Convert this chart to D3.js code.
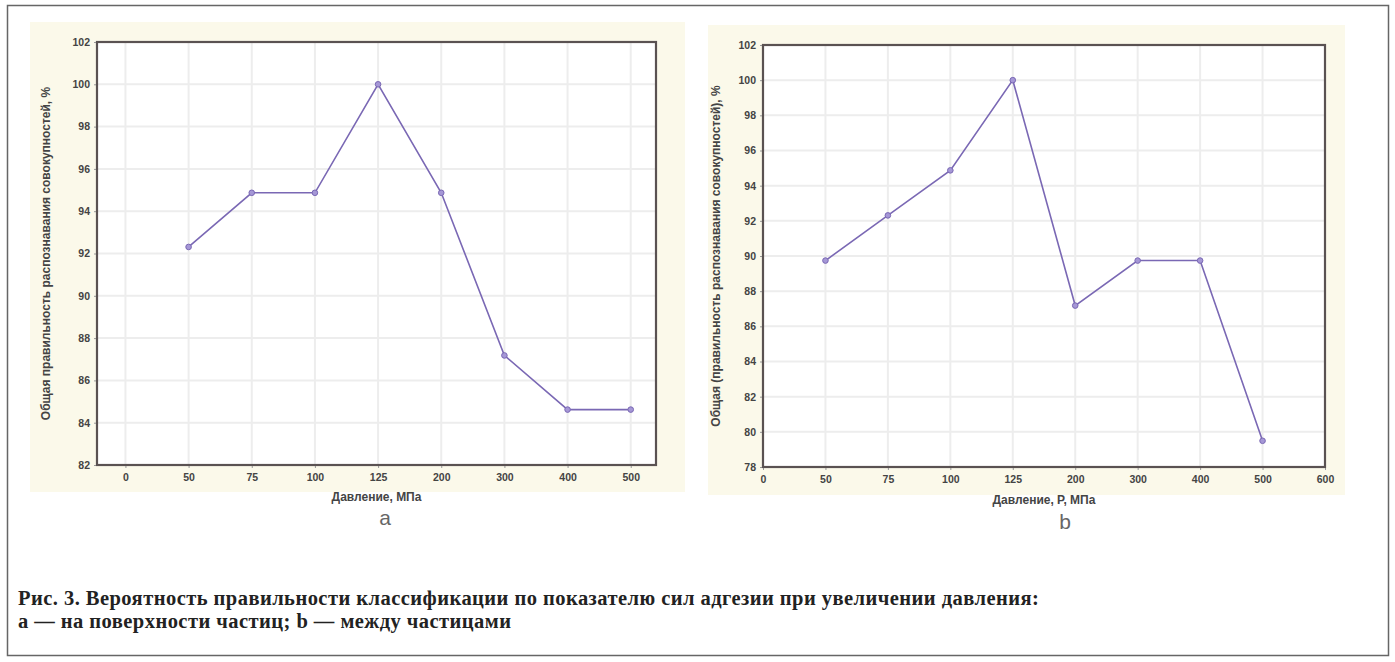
<!DOCTYPE html>
<html><head><meta charset="utf-8">
<script src="https://cdn.jsdelivr.net/npm/d3@7"></script>
<style>body{margin:0;background:#fff}svg{display:block}</style>
</head><body>
<script>
// ---- data ----
const catsA = ["0","50","75","100","125","200","300","400","500"];
const valsA = [null,92.31,94.87,94.87,100,94.87,87.18,84.62,84.62];
const yTicksA = [82,84,86,88,90,92,94,96,98,100,102];

const catsB = ["0","50","75","100","125","200","300","400","500","600"];
const valsB = [null,89.74,92.31,94.87,100,87.18,89.74,89.74,79.49,null];
const yTicksB = [78,80,82,84,86,88,90,92,94,96,98,100,102];

const yTitleA = "Общая правильность распознавания совокупностей, %";
const yTitleB = "Общая (правильность распознавания совокупностей), %";
const xTitleA = "Давление, МПа";
const xTitleB = "Давление, Р, МПа";
const captions = ["Рис. 3. Вероятность правильности классификации по показателю сил адгезии при увеличении давления:",
                  "а — на поверхности частиц; b — между частицами"];

const W=1395,H=662;
const svg=d3.select("body").append("svg").attr("width",W).attr("height",H);
svg.append("rect").attr("x",7.5).attr("y",5.5).attr("width",1381).attr("height",650)
  .attr("fill","#fff").attr("stroke","#666").attr("stroke-width",1.5);

const FONT="Liberation Sans, Arial";
function panel(o){
  const g=svg.append("g");
  g.append("rect").attr("x",o.bg[0]).attr("y",o.bg[1]).attr("width",o.bg[2]).attr("height",o.bg[3])
    .attr("fill","#fbf9ea");
  const x=d3.scaleLinear().domain(o.xdom).range([o.l,o.r]);
  const y=d3.scaleLinear().domain(o.ydom).range([o.b,o.t]);
  g.append("rect").attr("x",o.l).attr("y",o.t).attr("width",o.r-o.l).attr("height",o.b-o.t).attr("fill","#fff");
  const idx=o.cats.map((c,i)=>i);
  g.append("g").selectAll("line").data(idx).join("line")
    .attr("x1",d=>x(d)).attr("x2",d=>x(d)).attr("y1",o.t).attr("y2",o.b)
    .attr("stroke","#ededed").attr("stroke-width",2);
  g.append("g").selectAll("line").data(o.yt).join("line")
    .attr("x1",o.l).attr("x2",o.r).attr("y1",d=>y(d)).attr("y2",d=>y(d))
    .attr("stroke","#ededed").attr("stroke-width",2);
  const ya=g.append("g").attr("transform",`translate(${o.l},0)`)
    .call(d3.axisLeft(y).tickValues(o.yt).tickSize(3).tickPadding(4).tickFormat(d3.format("d")));
  ya.select(".domain").remove();
  ya.selectAll("line").attr("stroke","#999");
  ya.selectAll("text").attr("font-family",FONT).attr("font-size",10.5).attr("fill","#444").attr("font-weight","bold");
  const xa=g.append("g").attr("transform",`translate(0,${o.b})`)
    .call(d3.axisBottom(x).tickValues(idx).tickSize(3).tickPadding(6).tickFormat(i=>o.cats[i]));
  xa.select(".domain").remove();
  xa.selectAll("line").attr("stroke","#999");
  xa.selectAll("text").attr("font-family",FONT).attr("font-size",10.5).attr("fill","#444").attr("font-weight","bold");
  g.append("rect").attr("x",o.l).attr("y",o.t).attr("width",o.r-o.l).attr("height",o.b-o.t)
    .attr("fill","none").attr("stroke","#5a5252").attr("stroke-width",2.2);
  const pts=o.vals.map((v,i)=>({i,v})).filter(d=>d.v!=null);
  g.append("path").datum(pts).attr("fill","none").attr("stroke","#7a68b4").attr("stroke-width",1.6)
    .attr("d",d3.line().x(d=>x(d.i)).y(d=>y(d.v)));
  g.append("g").selectAll("circle").data(pts).join("circle")
    .attr("cx",d=>x(d.i)).attr("cy",d=>y(d.v)).attr("r",2.8)
    .attr("fill","#a597d6").attr("stroke","#7a68b4").attr("stroke-width",1);
  g.append("text").attr("transform",`translate(${o.ytx},${(o.t+o.b)/2}) rotate(-90)`)
    .attr("text-anchor","middle").attr("font-family",FONT).attr("font-size",12)
    .attr("fill","#444").attr("font-weight","bold").text(o.ytitle);
  g.append("text").attr("x",(o.l+o.r)/2).attr("y",o.xty).attr("text-anchor","middle")
    .attr("font-family",FONT).attr("font-size",12).attr("fill","#444").attr("font-weight","bold")
    .text(o.xtitle);
  g.append("text").attr("x",o.lab[0]).attr("y",o.lab[1]).attr("text-anchor","middle")
    .attr("font-family",FONT).attr("font-size",21).attr("fill","#666").text(o.label);
}

panel({bg:[30,22,655,470],l:97,r:656,t:42,b:465,xdom:[-0.45,8.4],ydom:[82,102],
  cats:catsA,vals:valsA,yt:yTicksA,ytitle:yTitleA,xtitle:xTitleA,ytx:50,xty:501,label:"a",lab:[385,525]});
panel({bg:[708,25,637,470],l:763,r:1325,t:45,b:467,xdom:[0,9],ydom:[78,102],
  cats:catsB,vals:valsB,yt:yTicksB,ytitle:yTitleB,xtitle:xTitleB,ytx:720,xty:504,label:"b",lab:[1065,529]});

svg.append("g").selectAll("text").data(captions).join("text")
  .attr("x",18).attr("y",(d,i)=>605+i*23)
  .attr("font-family","Liberation Serif, Times New Roman").attr("font-weight","bold").attr("font-size",20.5)
  .attr("letter-spacing",0.45)
  .attr("fill","#222").text(d=>d);
</script>
</body></html>
